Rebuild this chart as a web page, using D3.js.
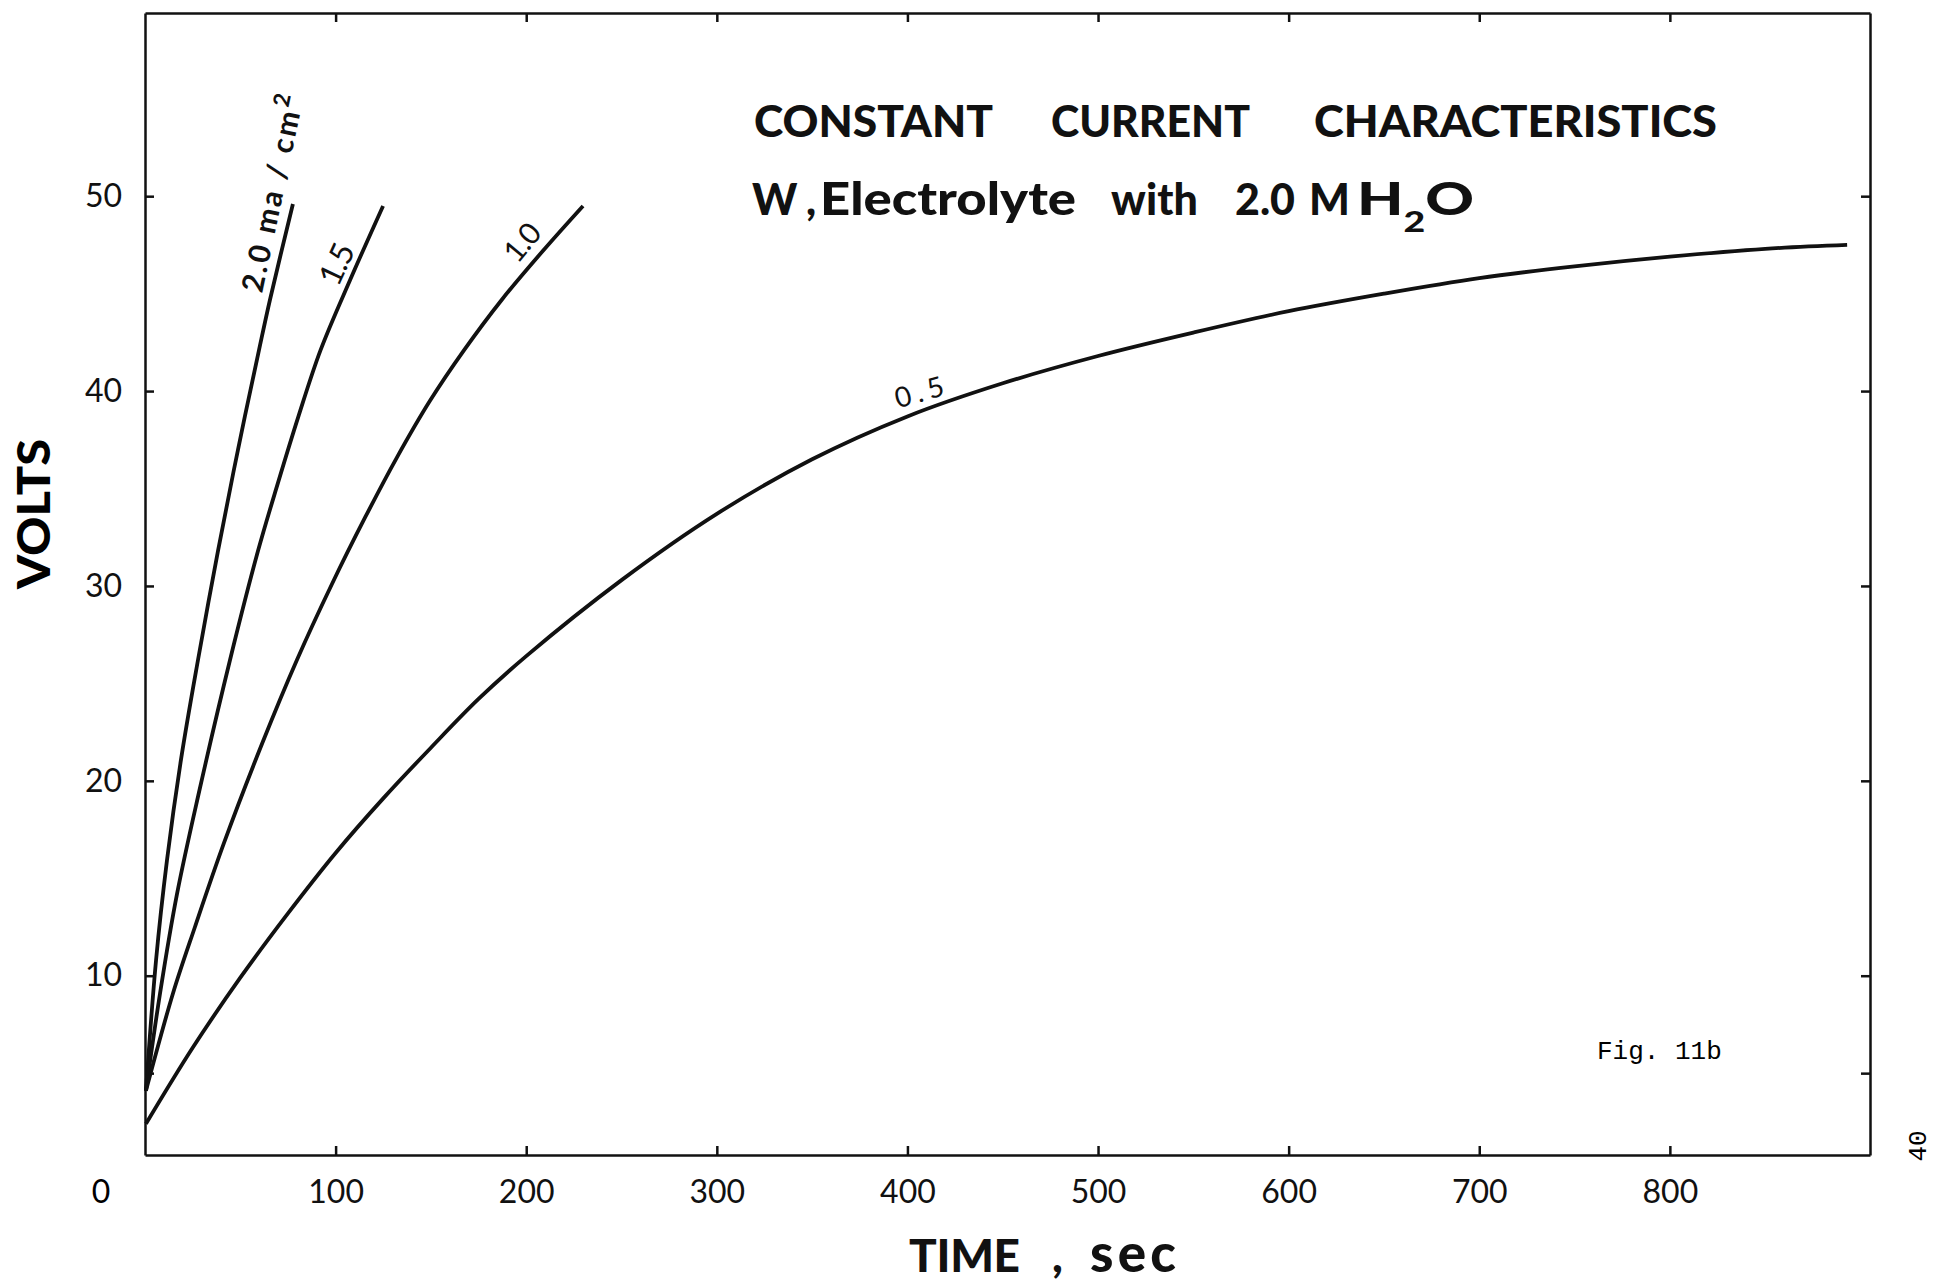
<!DOCTYPE html>
<html>
<head>
<meta charset="utf-8">
<script src="https://cdn.jsdelivr.net/npm/d3@7"></script>
<style>
  body { margin: 0; background: #fff; }
  svg { display: block; }
  .axis path, .axis line { stroke: #111; stroke-width: 2.5; }
  .axis text { font-family: Lato, "Noto Sans", sans-serif; font-size: 32px; fill: #111; }
</style>
</head>
<body>
<div id="chart"></div>
<script>
// time (sec) and voltage (volts), one pair per current density
var t20 = [0.5, 5.8, 11.5, 18.9, 27.8, 38.3, 48.8, 59.8, 65.6, 77.6];
var v20 = [4.1, 10.8, 15.9, 21.1, 26.2, 31.8, 37.0, 42.1, 44.7, 49.6];

var t15 = [0.5, 7.9, 16.8, 28.3, 44.6, 59.3, 69.8, 80.5, 92.1, 107.6, 124.9];
var v15 = [4.1, 9.1, 14.2, 19.4, 26.2, 31.8, 35.3, 38.7, 42.1, 45.7, 49.5];

var t10 = [0.5, 14.7, 26.2, 41.4, 61.4, 79.7, 98.1, 115.4, 132.2, 149.5, 167.4, 187.3, 208.8, 229.8];
var v10 = [4.1, 9.1, 12.5, 16.8, 21.9, 26.2, 30.1, 33.5, 36.6, 39.5, 42.1, 44.7, 47.2, 49.5];

var t05 = [0.5, 25, 50, 75, 100, 125, 150, 175, 200, 250, 300, 350, 400, 450, 500, 550, 600, 650, 700, 750, 800, 850, 893];
var v05 = [2.4, 6.3, 9.9, 13.2, 16.3, 19.1, 21.7, 24.2, 26.4, 30.3, 33.7, 36.5, 38.7, 40.4, 41.8, 43.0, 44.1, 45.0, 45.8, 46.4, 46.9, 47.3, 47.5];

// tick values
var xTicks = [100, 200, 300, 400, 500, 600, 700, 800];
var yTicks = [5, 10, 20, 30, 40, 50];

function makeGraph() {
    // set the dimensions and margins of the graph
    var margin = {top: 13, right: 65, bottom: 130, left: 145},
        width = 1935 - margin.left - margin.right,
        height = 1285 - margin.top - margin.bottom;

    var svg = d3.select("#chart")
        .append("svg")
        .attr("width", width + margin.left + margin.right)
        .attr("height", height + margin.top + margin.bottom)
        .append("g")
        .attr("transform", "translate(" + margin.left + "," + margin.top + ")");

    var x = d3.scaleLinear().domain([0, 905]).range([0, width]);
    var y = d3.scaleLinear().domain([0.8, 59.4]).range([height, 0]);

    // bottom axis, ticks pointing inward
    svg.append("g")
        .attr("class", "axis")
        .attr("transform", "translate(0," + height + ")")
        .call(d3.axisBottom(x).tickValues(xTicks).tickSize(-9).tickSizeOuter(0).tickPadding(25));

    // the "0" sits left of the corner
    svg.append("text")
        .attr("x", x(0) - 44)
        .attr("y", height + 25)
        .attr("dy", "0.71em")
        .style("text-anchor", "middle")
        .style("font-family", "Lato, sans-serif")
        .style("font-size", "32px")
        .text("0");

    // left axis
    svg.append("g")
        .attr("class", "axis")
        .call(d3.axisLeft(y).tickValues(yTicks).tickSize(-9).tickSizeOuter(0).tickPadding(23)
            .tickFormat(function (d) { return d === 5 ? "" : d; }));

    // top and right frame with ticks
    svg.append("g")
        .attr("class", "axis")
        .call(d3.axisTop(x).tickValues(xTicks).tickSize(-9).tickSizeOuter(0).tickFormat(""));
    svg.append("g")
        .attr("class", "axis")
        .attr("transform", "translate(" + width + ",0)")
        .call(d3.axisRight(y).tickValues(yTicks).tickSize(-9).tickSizeOuter(0).tickFormat(""));

    // the four curves
    var line = d3.line()
        .x(function (d) { return x(d[0]); })
        .y(function (d) { return y(d[1]); })
        .curve(d3.curveCatmullRom.alpha(0.5));

    [[t20, v20], [t15, v15], [t10, v10], [t05, v05]].forEach(function (s) {
        svg.append("path")
            .datum(d3.zip(s[0], s[1]))
            .attr("fill", "none")
            .attr("stroke", "#111")
            .attr("stroke-width", 3.8)
            .attr("stroke-linejoin", "round")
            .attr("d", line);
    });

    // curve labels, set along each curve
    function curveLabel(t, v, angle, size, weight, len, parts) {
        var txt = svg.append("text")
            .attr("transform", "translate(" + x(t) + "," + y(v) + ") rotate(" + angle + ")")
            .attr("textLength", len)
            .attr("lengthAdjust", "spacing")
            .style("font-family", "Lato, sans-serif")
            .style("font-size", size + "px")
            .style("font-weight", weight)
            .style("fill", "#111");
        parts.forEach(function (p) {
            var ts = txt.append("tspan").text(p.text);
            if (p.sup) ts.attr("baseline-shift", "super").style("font-size", (size * 0.75) + "px");
        });
    }
    curveLabel(61.4, 45.0, -78, 30, 700, 200, [{text: "2.0  ma  /  cm"}, {text: "2", sup: true}]);
    curveLabel(101.3, 45.3, -65, 32, 400, 42, [{text: "1.5"}]);
    curveLabel(195.4, 46.5, -50, 30, 400, 40, [{text: "1.0"}]);
    curveLabel(395, 39.1, -16, 28, 400, 50, [{text: "0.5"}]);

    // title block, word by word
    function word(txt, px, py, len, size, adjust) {
        var w = svg.append("text")
            .attr("x", px - margin.left)
            .attr("y", py - margin.top)
            .style("font-family", "Lato, sans-serif")
            .style("font-size", size + "px")
            .style("font-weight", 900)
            .style("fill", "#111")
            .text(txt);
        if (len) w.attr("textLength", len).attr("lengthAdjust", adjust || "spacingAndGlyphs");
        return w;
    }
    word("CONSTANT", 754, 137, 239, 43);
    word("CURRENT", 1051, 137, 199, 43);
    word("CHARACTERISTICS", 1314, 137, 403, 43);

    word("W", 752, 215, null, 43);
    word(",", 806, 215, null, 43);
    word("Electrolyte", 820, 215, 256, 45);
    word("with", 1111, 215, 87, 43, "spacing");
    word("2.0", 1235, 215, 60, 43);
    word("M", 1309, 215, null, 43);
    var h2o = word("", 1357, 215, 117, 45);
    h2o.append("tspan").text("H");
    h2o.append("tspan").attr("baseline-shift", "sub").style("font-size", "28px").text("2");
    h2o.append("tspan").text("O");

    // axis titles
    svg.append("text")
        .attr("transform", "translate(" + (50 - margin.left) + "," + (514 - margin.top) + ") rotate(-90)")
        .attr("textLength", 150)
        .attr("lengthAdjust", "spacingAndGlyphs")
        .style("text-anchor", "middle")
        .style("font-family", "Lato, sans-serif")
        .style("font-size", "46px")
        .style("font-weight", 900)
        .text("VOLTS");

    word("TIME", 909, 1272, 111, 46, "spacing");
    word(",", 1052, 1272, null, 46);
    word("sec", 1090, 1272, 86, 53, "spacing");

    // figure number and page number, typewritten
    svg.append("text")
        .attr("x", 1597 - margin.left)
        .attr("y", 1059 - margin.top)
        .style("font-family", "'Liberation Mono', 'DejaVu Sans Mono', monospace")
        .style("font-size", "26px")
        .text("Fig. 11b");

    svg.append("text")
        .attr("transform", "translate(" + (1917 - margin.left) + "," + (1146 - margin.top) + ") rotate(-90)")
        .attr("dy", "0.35em")
        .style("text-anchor", "middle")
        .style("font-family", "'Liberation Mono', 'DejaVu Sans Mono', monospace")
        .style("font-size", "26px")
        .text("40");
}

makeGraph();
</script>
</body>
</html>
